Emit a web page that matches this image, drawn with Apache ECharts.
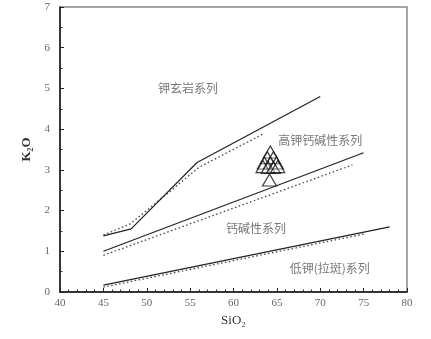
<!DOCTYPE html>
<html><head><meta charset="utf-8">
<script src="https://cdn.jsdelivr.net/npm/echarts@6/dist/echarts.min.js"></script>
<style>html,body{margin:0;padding:0;background:#fff}#c{width:431px;height:339px}</style>
</head><body><div id="c"></div>
<script>
// Boundary lines [SiO2, K2O]
var shoSolid = [[45,1.38],[48.2,1.55],[55.8,3.18],[70,4.8]];
var shoDotted = [[45,1.4],[48,1.66],[52,2.35],[56,3.06],[63.4,3.88]];
var hkSolid = [[45,1.0],[75,3.42]];
var hkDotted = [[45,0.9],[73.7,3.12]];
var lkSolid = [[45,0.17],[78,1.6]];
var lkDotted = [[45,0.12],[75.2,1.43]];
// Samples
var samples = [[64.25,3.44],[63.9,3.3],[64.6,3.3],[63.55,3.17],[64.25,3.17],[64.95,3.17],[63.4,3.08],[64.0,3.06],[64.6,3.06],[65.1,3.08],[64.15,2.75]];
// Field labels
var fieldLabels = [
  {name:'钾玄岩系列', value:[54.75,5.01]},
  {name:'高钾钙碱性系列', value:[70.0,3.73]},
  {name:'钙碱性系列', value:[62.6,1.55]},
  {name:'低钾(拉斑)系列', value:[71.1,0.59]}
];
var xTicks = [40,45,50,55,60,65,70,75,80];
var yTicks = [0,1,2,3,4,5,6,7];

var chart = echarts.init(document.getElementById('c'));
function line(d, dotted){
  return {type:'line', data:d, symbol:'none', silent:true,
    lineStyle:{color:dotted?'#444':'#222', width:dotted?1.3:1.2, type:dotted?[1.5,2.5]:'solid'}};
}
chart.setOption({
  animation:false,
  grid:{left:60, right:24, top:7, bottom:47, show:true, borderColor:'#8a8a8a', borderWidth:1.5},
  xAxis:{type:'value', min:40, max:80, interval:5,
    name:'SiO\u2082', nameLocation:'middle', nameGap:20,
    nameTextStyle:{fontFamily:'Liberation Serif', fontSize:13, color:'#333'},
    axisLine:{lineStyle:{color:'#111', width:1.5}},
    axisTick:{inside:true, length:4, lineStyle:{color:'#222'}},
    minorTick:{show:true, splitNumber:5, length:2.5, lineStyle:{color:'#333'}},
    splitLine:{show:false},
    axisLabel:{fontFamily:'Liberation Serif', fontSize:11, color:'#666', margin:6,
      formatter:function(v){return xTicks.indexOf(v)>=0?String(v):'';}}
  },
  yAxis:{type:'value', min:0, max:7, interval:1,
    name:'K\u2082O', nameLocation:'middle', nameGap:19, nameRotate:90,
    nameTextStyle:{fontFamily:'Liberation Serif', fontSize:13, fontWeight:'bold', color:'#333'},
    axisLine:{lineStyle:{color:'#111', width:1.5}},
    axisTick:{inside:true, length:4, lineStyle:{color:'#222'}},
    minorTick:{show:true, splitNumber:2, length:2.5, lineStyle:{color:'#333'}},
    splitLine:{show:false},
    axisLabel:{fontFamily:'Liberation Serif', fontSize:11, color:'#666', margin:10,
      formatter:function(v){return yTicks.indexOf(v)>=0?String(v):'';}}
  },
  series:[
    line(shoDotted,true), line(shoSolid,false),
    line(hkDotted,true), line(hkSolid,false),
    line(lkDotted,true), line(lkSolid,false),
    {type:'scatter', data:samples, symbol:'triangle', symbolSize:[14,12],
      itemStyle:{color:'rgba(255,255,255,0.3)', borderColor:'#111', borderWidth:1.2}},
    {type:'scatter', data:fieldLabels, symbolSize:0, silent:true,
      label:{show:true, position:'inside', formatter:'{b}', color:'#555',
        fontFamily:'Noto Sans CJK SC', fontSize:12}}
  ]
});
</script></body></html>
